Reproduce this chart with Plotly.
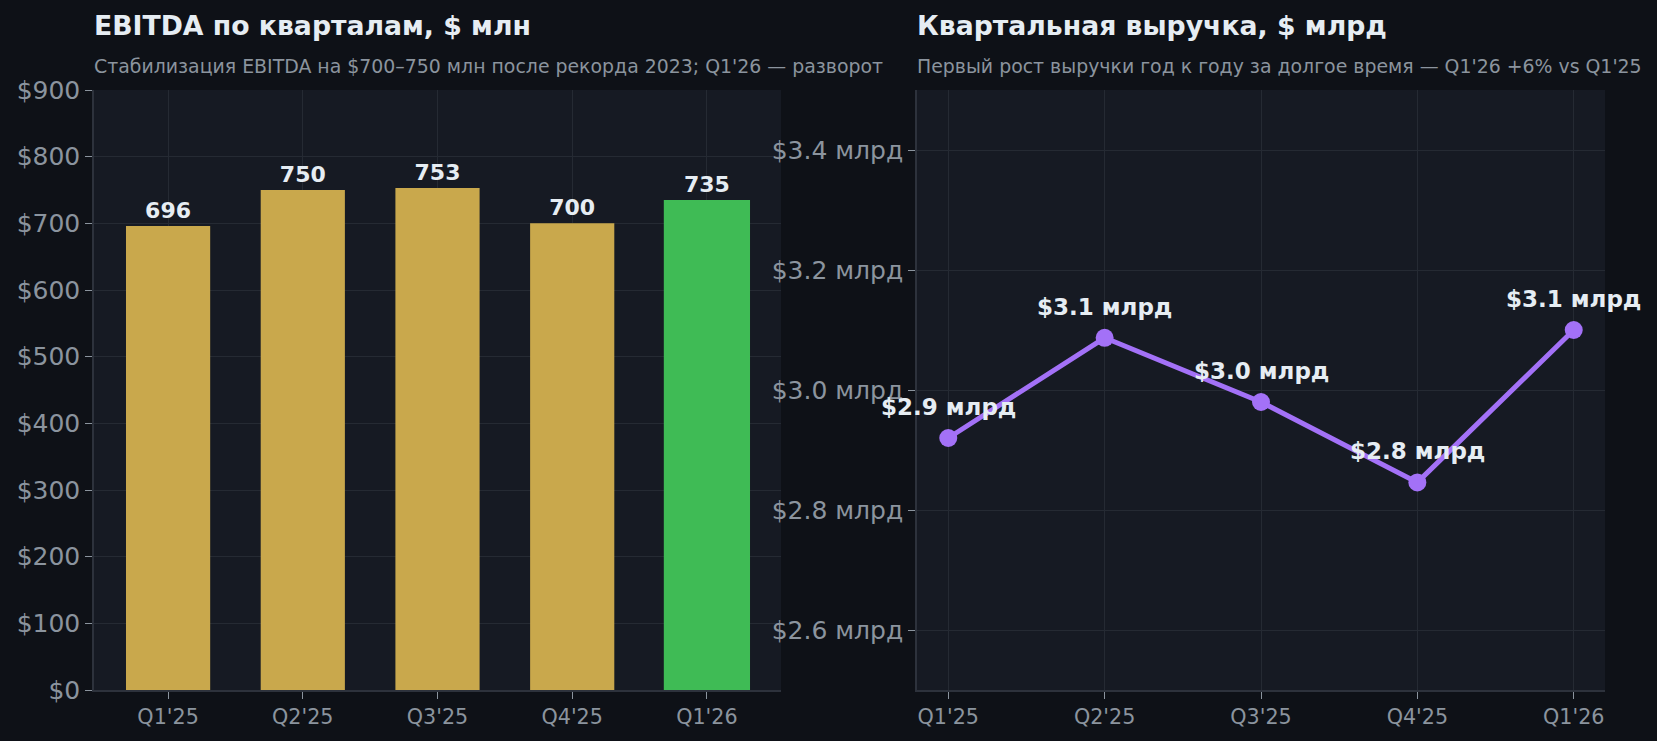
import plotly.graph_objects as go
from plotly.subplots import make_subplots

# data
quarters = ["Q1'25", "Q2'25", "Q3'25", "Q4'25", "Q1'26"]
ebitda = [696, 750, 753, 700, 735]
revenue = [2.92, 3.087, 2.98, 2.846, 3.10]

bar_colors = ["#C9A84C", "#C9A84C", "#C9A84C", "#C9A84C", "#3FBB55"]
bar_widths = [0.625, 0.625, 0.625, 0.625, 0.64]

PAPER = "#0E1117"
PLOT = "#161A23"
GRID = "#252A33"
TICK = "#8B949E"
TEXT = "#E6EDF3"
FONT = "DejaVu Sans"

W, H = 1657, 741
TOP, BOTTOM = 90, 51
plot_h = H - TOP - BOTTOM

fig = make_subplots(rows=1, cols=2)

fig.add_trace(go.Bar(x=quarters, y=ebitda,
                     marker={'color': bar_colors, 'line': {'width': 0}},
                     width=bar_widths,
                     text=[str(v) for v in ebitda],
                     textposition='outside',
                     textfont={'color': TEXT, 'size': 22, 'family': FONT, 'weight': 'bold'},
                     cliponaxis=False,
                     showlegend=False), row=1, col=1)

fig.add_trace(go.Scatter(x=quarters, y=revenue, mode='lines+markers',
                         line={'color': '#A371F7', 'width': 5},
                         marker={'size': 18, 'color': '#A371F7'},
                         cliponaxis=False,
                         showlegend=False), row=1, col=2)

# point labels above the line
for q, v in zip(quarters, revenue):
    fig.add_annotation(x=q, y=v, xref='x2', yref='y2', yshift=31,
                       text='<b>$%.1f млрд</b>' % v, showarrow=False,
                       font={'color': TEXT, 'size': 23, 'family': FONT})

# titles and subtitles
heads = [
    (94 / W, "EBITDA по кварталам, $ млн",
     "Стабилизация EBITDA на $700–750 млн после рекорда 2023; Q1'26 — разворот"),
    (917 / W, "Квартальная выручка, $ млрд",
     "Первый рост выручки год к году за долгое время — Q1'26 +6% vs Q1'25"),
]
for x0, title, sub in heads:
    fig.add_annotation(x=x0, y=1 + (TOP - 26) / plot_h, xref='paper', yref='paper',
                       xanchor='left', yanchor='middle', showarrow=False, xshift=-2,
                       text='<b>%s</b>' % title,
                       font={'color': TEXT, 'size': 26.7, 'family': FONT})
    fig.add_annotation(x=x0, y=1 + (TOP - 66) / plot_h, xref='paper', yref='paper',
                       xanchor='left', yanchor='middle', showarrow=False, xshift=-2,
                       text=sub, font={'color': TICK, 'size': 18.9, 'family': FONT})

axis_common = dict(showgrid=True, gridcolor=GRID, gridwidth=1,
                   showline=True, linecolor="#2D323C", linewidth=1.5,
                   ticks='outside', tickcolor=TICK, ticklen=7, tickwidth=1,
                   zeroline=False)

fig.update_xaxes(**axis_common, tickfont={'color': TICK, 'size': 20.7, 'family': FONT})
fig.update_yaxes(**axis_common, tickfont={'color': TICK, 'size': 25, 'family': FONT})

fig.update_xaxes(domain=[94 / W, 781 / W], range=[-0.55, 4.55], row=1, col=1)
fig.update_xaxes(domain=[917 / W, 1605 / W], range=[-0.2, 4.2], row=1, col=2)
fig.update_yaxes(range=[0, 900], dtick=100, tickprefix='$', row=1, col=1)
fig.update_yaxes(range=[2.5, 3.5], tickvals=[2.6, 2.8, 3.0, 3.2, 3.4],
                 ticktext=['$2.6 млрд', '$2.8 млрд', '$3.0 млрд', '$3.2 млрд', '$3.4 млрд'],
                 row=1, col=2)

fig.update_layout(width=W, height=H,
                  paper_bgcolor=PAPER, plot_bgcolor=PLOT,
                  margin={'l': 0, 'r': 0, 't': TOP, 'b': BOTTOM},
                  font={'family': FONT, 'color': TICK},
                  bargap=0.3)

fig.write_html("out.html", config={'displayModeBar': False},
               post_script="document.body.style.margin='0';"
                           "document.body.style.background='%s';"
                           "document.body.style.overflow='hidden';" % PAPER)
